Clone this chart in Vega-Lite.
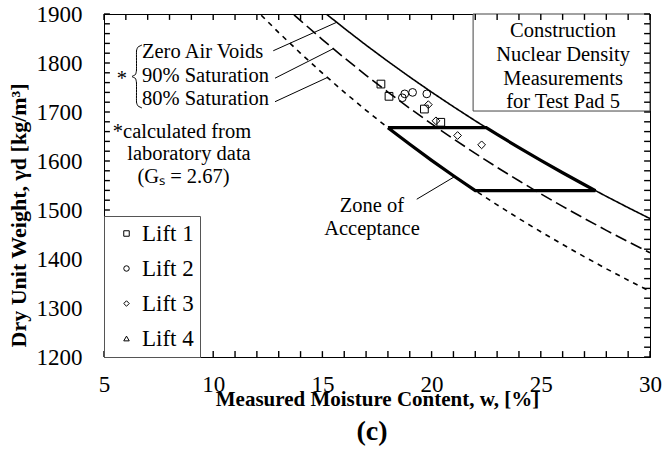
{
  "$schema": "https://vega.github.io/schema/vega-lite/v6.json",
  "width": 546,
  "height": 343,
  "autosize": {"type": "none"},
  "padding": {"left": 104, "top": 14, "right": 13, "bottom": 104},
  "background": "white",
  "config": {
    "font": "Liberation Serif",
    "view": {"stroke": "black", "strokeWidth": 1},
    "axis": {"domainColor": "black", "tickColor": "black", "labelColor": "black", "titleColor": "black", "grid": false}
  },
  "title": {"text": "(c)", "orient": "bottom", "anchor": "middle", "fontSize": 28, "fontWeight": "bold", "font": "Liberation Serif", "offset": 9, "dx": -5, "color": "black"},
  "datasets": {
    "curves": [
      {"curve": "Zero Air Voids", "w": 15.2, "rho": 1899.2},
      {"curve": "Zero Air Voids", "w": 16, "rho": 1870.8},
      {"curve": "Zero Air Voids", "w": 17, "rho": 1836.4},
      {"curve": "Zero Air Voids", "w": 18, "rho": 1803.3},
      {"curve": "Zero Air Voids", "w": 19, "rho": 1771.4},
      {"curve": "Zero Air Voids", "w": 20, "rho": 1740.5},
      {"curve": "Zero Air Voids", "w": 21, "rho": 1710.8},
      {"curve": "Zero Air Voids", "w": 22, "rho": 1682.0},
      {"curve": "Zero Air Voids", "w": 23, "rho": 1654.2},
      {"curve": "Zero Air Voids", "w": 24, "rho": 1627.3},
      {"curve": "Zero Air Voids", "w": 25, "rho": 1601.2},
      {"curve": "Zero Air Voids", "w": 26, "rho": 1576.0},
      {"curve": "Zero Air Voids", "w": 27, "rho": 1551.5},
      {"curve": "Zero Air Voids", "w": 28, "rho": 1527.8},
      {"curve": "Zero Air Voids", "w": 29, "rho": 1504.8},
      {"curve": "Zero Air Voids", "w": 30, "rho": 1482.5},
      {"curve": "90% Saturation", "w": 13.7, "rho": 1898.4},
      {"curve": "90% Saturation", "w": 14, "rho": 1886.5},
      {"curve": "90% Saturation", "w": 15, "rho": 1847.8},
      {"curve": "90% Saturation", "w": 16, "rho": 1810.6},
      {"curve": "90% Saturation", "w": 17, "rho": 1774.9},
      {"curve": "90% Saturation", "w": 18, "rho": 1740.5},
      {"curve": "90% Saturation", "w": 19, "rho": 1707.5},
      {"curve": "90% Saturation", "w": 20, "rho": 1675.7},
      {"curve": "90% Saturation", "w": 21, "rho": 1645.1},
      {"curve": "90% Saturation", "w": 22, "rho": 1615.5},
      {"curve": "90% Saturation", "w": 23, "rho": 1587.0},
      {"curve": "90% Saturation", "w": 24, "rho": 1559.6},
      {"curve": "90% Saturation", "w": 25, "rho": 1533.0},
      {"curve": "90% Saturation", "w": 26, "rho": 1507.3},
      {"curve": "90% Saturation", "w": 27, "rho": 1482.5},
      {"curve": "90% Saturation", "w": 28, "rho": 1458.5},
      {"curve": "90% Saturation", "w": 29, "rho": 1435.2},
      {"curve": "90% Saturation", "w": 30, "rho": 1412.7},
      {"curve": "80% Saturation", "w": 12.2, "rho": 1897.5},
      {"curve": "80% Saturation", "w": 13, "rho": 1862.1},
      {"curve": "80% Saturation", "w": 14, "rho": 1819.8},
      {"curve": "80% Saturation", "w": 15, "rho": 1779.3},
      {"curve": "80% Saturation", "w": 16, "rho": 1740.5},
      {"curve": "80% Saturation", "w": 17, "rho": 1703.5},
      {"curve": "80% Saturation", "w": 18, "rho": 1668.0},
      {"curve": "80% Saturation", "w": 19, "rho": 1634.0},
      {"curve": "80% Saturation", "w": 20, "rho": 1601.2},
      {"curve": "80% Saturation", "w": 21, "rho": 1569.8},
      {"curve": "80% Saturation", "w": 22, "rho": 1539.6},
      {"curve": "80% Saturation", "w": 23, "rho": 1510.5},
      {"curve": "80% Saturation", "w": 24, "rho": 1482.5},
      {"curve": "80% Saturation", "w": 25, "rho": 1455.6},
      {"curve": "80% Saturation", "w": 26, "rho": 1429.6},
      {"curve": "80% Saturation", "w": 27, "rho": 1404.4},
      {"curve": "80% Saturation", "w": 28, "rho": 1380.1},
      {"curve": "80% Saturation", "w": 29, "rho": 1356.8},
      {"curve": "80% Saturation", "w": 30, "rho": 1334.2}
    ],
    "zone": [
      {"step": 1, "w": 18, "rho": 1668.0},
      {"step": 2, "w": 19, "rho": 1634.0},
      {"step": 3, "w": 20, "rho": 1601.2},
      {"step": 4, "w": 21, "rho": 1569.8},
      {"step": 5, "w": 22, "rho": 1539.6},
      {"step": 6, "w": 27.5, "rho": 1539.6},
      {"step": 7, "w": 27, "rho": 1551.5},
      {"step": 8, "w": 26, "rho": 1576.0},
      {"step": 9, "w": 25, "rho": 1601.2},
      {"step": 10, "w": 24, "rho": 1627.3},
      {"step": 11, "w": 23, "rho": 1654.2},
      {"step": 12, "w": 22.5, "rho": 1668.0},
      {"step": 13, "w": 18, "rho": 1668.0}
    ],
    "measurements": [
      {"lift": "Lift 1", "w": 17.68, "rho": 1757},
      {"lift": "Lift 1", "w": 18.05, "rho": 1732},
      {"lift": "Lift 1", "w": 19.67, "rho": 1706},
      {"lift": "Lift 1", "w": 20.42, "rho": 1679},
      {"lift": "Lift 2", "w": 18.66, "rho": 1729},
      {"lift": "Lift 2", "w": 18.77, "rho": 1737},
      {"lift": "Lift 2", "w": 19.13, "rho": 1740},
      {"lift": "Lift 2", "w": 19.78, "rho": 1737},
      {"lift": "Lift 3", "w": 19.85, "rho": 1715},
      {"lift": "Lift 3", "w": 20.2, "rho": 1682},
      {"lift": "Lift 3", "w": 21.19, "rho": 1652},
      {"lift": "Lift 3", "w": 22.29, "rho": 1633}
    ],
    "leaders": [
      {"id": "zav", "w": 12.75, "rho": 1825},
      {"id": "zav", "w": 15.65, "rho": 1883},
      {"id": "s90", "w": 12.83, "rho": 1769},
      {"id": "s90", "w": 15.49, "rho": 1829},
      {"id": "s80", "w": 12.83, "rho": 1721},
      {"id": "s80", "w": 15.21, "rho": 1770},
      {"id": "zone", "w": 19.32, "rho": 1522},
      {"id": "zone", "w": 21.05, "rho": 1568}
    ],
    "brace": [
      {"step": 1, "w": 6.74, "rho": 1836.7},
      {"step": 2, "w": 6.557, "rho": 1832.7},
      {"step": 3, "w": 6.488, "rho": 1824.5},
      {"step": 4, "w": 6.488, "rho": 1785.7},
      {"step": 5, "w": 6.442, "rho": 1776.5},
      {"step": 6, "w": 6.282, "rho": 1772.4},
      {"step": 7, "w": 6.442, "rho": 1768.4},
      {"step": 8, "w": 6.488, "rho": 1759.2},
      {"step": 9, "w": 6.488, "rho": 1720.4},
      {"step": 10, "w": 6.557, "rho": 1712.2},
      {"step": 11, "w": 6.74, "rho": 1708.2}
    ],
    "xticks": [
      {"w": 5}, {"w": 6}, {"w": 7}, {"w": 8}, {"w": 9}, {"w": 10}, {"w": 11}, {"w": 12}, {"w": 13},
      {"w": 14}, {"w": 15}, {"w": 16}, {"w": 17}, {"w": 18}, {"w": 19}, {"w": 20}, {"w": 21}, {"w": 22},
      {"w": 23}, {"w": 24}, {"w": 25}, {"w": 26}, {"w": 27}, {"w": 28}, {"w": 29}, {"w": 30}
    ],
    "yticks": [
      {"rho": 1200}, {"rho": 1220}, {"rho": 1240}, {"rho": 1260}, {"rho": 1280}, {"rho": 1300},
      {"rho": 1320}, {"rho": 1340}, {"rho": 1360}, {"rho": 1380}, {"rho": 1400}, {"rho": 1420},
      {"rho": 1440}, {"rho": 1460}, {"rho": 1480}, {"rho": 1500}, {"rho": 1520}, {"rho": 1540},
      {"rho": 1560}, {"rho": 1580}, {"rho": 1600}, {"rho": 1620}, {"rho": 1640}, {"rho": 1660},
      {"rho": 1680}, {"rho": 1700}, {"rho": 1720}, {"rho": 1740}, {"rho": 1760}, {"rho": 1780},
      {"rho": 1800}, {"rho": 1820}, {"rho": 1840}, {"rho": 1860}, {"rho": 1880}, {"rho": 1900}
    ],
    "box": [{"w1": 21.9, "w2": 30, "r1": 1900, "r2": 1702}],
    "leftNotes": [
      {"text": "Zero Air Voids", "w": 6.74, "rho": 1823},
      {"text": "90% Saturation", "w": 6.74, "rho": 1773.5},
      {"text": "80% Saturation", "w": 6.74, "rho": 1726}
    ],
    "centerNotes": [
      {"text": "*calculated from", "w": 8.57, "rho": 1660},
      {"text": "laboratory data", "w": 8.89, "rho": 1614},
      {"text": "(Gₛ = 2.67)", "w": 8.64, "rho": 1567},
      {"text": "Zone of", "w": 17.27, "rho": 1508},
      {"text": "Acceptance", "w": 17.27, "rho": 1461},
      {"text": "Construction", "w": 26.02, "rho": 1865},
      {"text": "Nuclear Density", "w": 26.02, "rho": 1816},
      {"text": "Measurements", "w": 26.02, "rho": 1768},
      {"text": "for Test Pad 5", "w": 26.02, "rho": 1720},
      {"text": "*", "w": 5.82, "rho": 1768}
    ]
  },
  "resolve": {"axis": {"x": "independent", "y": "independent"}},
  "layer": [
    {
      "data": {"name": "box"},
      "mark": {"type": "rect", "fill": "white", "stroke": "#444", "strokeWidth": 1},
      "encoding": {
        "x": {"field": "w1", "type": "quantitative", "scale": {"domain": [5, 30], "nice": false}, "axis": {
          "orient": "bottom", "values": [5, 10, 15, 20, 25, 30], "ticks": false, "tickSize": 0, "labelPadding": 16,
          "labelFontSize": 23, "labelFont": "Liberation Serif", "labelFlush": false, "labelOverlap": false,
          "title": "Measured Moisture Content, w, [%]", "titleFontSize": 21, "titleFontWeight": "bold",
          "titleFont": "Liberation Serif", "titleY": 42, "titleBaseline": "middle", "titleX": 273}},
        "x2": {"field": "w2"},
        "y": {"field": "r1", "type": "quantitative", "scale": {"domain": [1200, 1900], "nice": false}, "axis": {
          "orient": "left", "values": [1200, 1300, 1400, 1500, 1600, 1700, 1800, 1900], "format": "d",
          "ticks": false, "tickSize": 0, "labelPadding": 22,
          "labelFontSize": 23, "labelFont": "Liberation Serif", "labelFlush": false, "labelOverlap": false,
          "title": "Dry Unit Weight, γd  [kg/m³]", "titleFontSize": 22, "titleFontWeight": "bold",
          "titleFont": "Liberation Serif", "titleX": -86, "titleY": 201, "titleBaseline": "middle"}},
        "y2": {"field": "r2"}
      }
    },
    {
      "data": {"name": "zone"},
      "mark": {"type": "line", "color": "black", "strokeWidth": 3.2, "strokeJoin": "miter"},
      "encoding": {
        "x": {"field": "w", "type": "quantitative", "axis": null},
        "y": {"field": "rho", "type": "quantitative", "axis": null},
        "order": {"field": "step", "type": "quantitative"}
      }
    },
    {
      "data": {"name": "curves"},
      "mark": {"type": "line", "color": "black", "strokeWidth": 1.6},
      "encoding": {
        "x": {"field": "w", "type": "quantitative", "axis": null},
        "y": {"field": "rho", "type": "quantitative", "axis": null},
        "strokeDash": {"field": "curve", "type": "nominal", "scale": {"domain": ["Zero Air Voids", "90% Saturation", "80% Saturation"], "range": [[1, 0], [12, 5], [5, 5]]}, "legend": null},
        "order": {"field": "w", "type": "quantitative"}
      }
    },
    {
      "data": {"name": "leaders"},
      "mark": {"type": "line", "color": "black", "strokeWidth": 1},
      "encoding": {
        "x": {"field": "w", "type": "quantitative", "axis": null},
        "y": {"field": "rho", "type": "quantitative", "axis": null},
        "detail": {"field": "id", "type": "nominal"}
      }
    },
    {
      "data": {"name": "brace"},
      "mark": {"type": "line", "color": "black", "strokeWidth": 1, "interpolate": "cardinal", "tension": 0.6},
      "encoding": {
        "x": {"field": "w", "type": "quantitative", "axis": null},
        "y": {"field": "rho", "type": "quantitative", "axis": null},
        "order": {"field": "step", "type": "quantitative"}
      }
    },
    {
      "data": {"name": "measurements"},
      "mark": {"type": "point", "filled": false, "color": "black", "strokeWidth": 1, "size": 60, "opacity": 1},
      "encoding": {
        "x": {"field": "w", "type": "quantitative", "axis": null},
        "y": {"field": "rho", "type": "quantitative", "axis": null},
        "shape": {"field": "lift", "type": "nominal",
          "scale": {"domain": ["Lift 1", "Lift 2", "Lift 3", "Lift 4"], "range": ["square", "circle", "diamond", "triangle-up"]},
          "legend": {"title": null, "orient": "bottom-left", "offset": 0, "strokeColor": "#555", "fillColor": "white", "zindex": 2,
            "padding": 6, "rowPadding": 11, "labelFont": "Liberation Serif", "labelFontSize": 23, "labelColor": "black",
            "symbolSize": 30, "symbolStrokeColor": "black", "symbolStrokeWidth": 1, "symbolOffset": 5, "labelOffset": 4}}
      }
    },
    {
      "data": {"name": "leftNotes"},
      "mark": {"type": "text", "align": "left", "baseline": "middle", "fontSize": 20.5, "font": "Liberation Serif", "color": "black"},
      "encoding": {
        "x": {"field": "w", "type": "quantitative", "axis": null},
        "y": {"field": "rho", "type": "quantitative", "axis": null},
        "text": {"field": "text"}
      }
    },
    {
      "data": {"name": "centerNotes"},
      "mark": {"type": "text", "align": "center", "baseline": "middle", "fontSize": 20.5, "font": "Liberation Serif", "color": "black"},
      "encoding": {
        "x": {"field": "w", "type": "quantitative", "axis": null},
        "y": {"field": "rho", "type": "quantitative", "axis": null},
        "text": {"field": "text"}
      }
    },
    {
      "data": {"name": "xticks"},
      "mark": {"type": "rule", "color": "black", "strokeWidth": 1.4},
      "encoding": {
        "x": {"field": "w", "type": "quantitative", "axis": null},
        "y": {"datum": 1200, "type": "quantitative", "axis": null},
        "y2": {"datum": 1212}
      }
    },
    {
      "data": {"name": "xticks"},
      "mark": {"type": "rule", "color": "black", "strokeWidth": 1.4},
      "encoding": {
        "x": {"field": "w", "type": "quantitative", "axis": null},
        "y": {"datum": 1900, "type": "quantitative", "axis": null},
        "y2": {"datum": 1888}
      }
    },
    {
      "data": {"name": "yticks"},
      "mark": {"type": "rule", "color": "black", "strokeWidth": 1.4},
      "encoding": {
        "y": {"field": "rho", "type": "quantitative", "axis": null},
        "x": {"datum": 5, "type": "quantitative", "axis": null},
        "x2": {"datum": 5.27}
      }
    },
    {
      "data": {"name": "yticks"},
      "mark": {"type": "rule", "color": "black", "strokeWidth": 1.4},
      "encoding": {
        "y": {"field": "rho", "type": "quantitative", "axis": null},
        "x": {"datum": 30, "type": "quantitative", "axis": null},
        "x2": {"datum": 29.73}
      }
    }
  ]
}
